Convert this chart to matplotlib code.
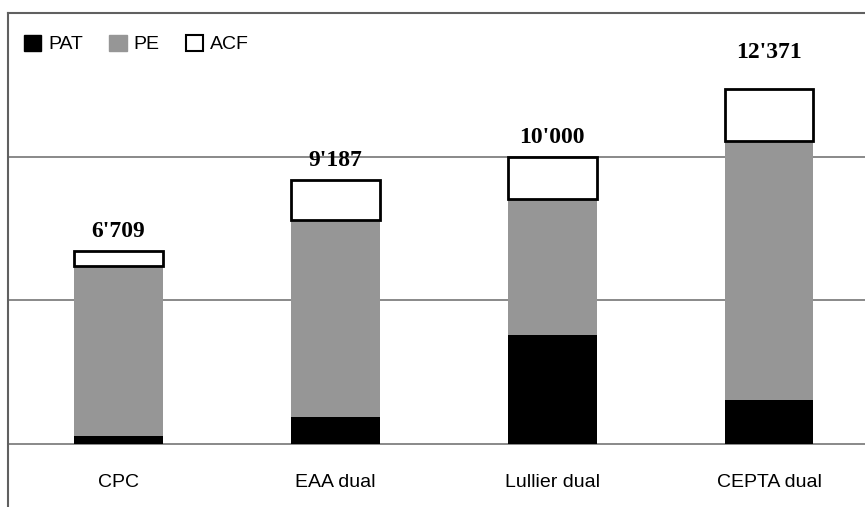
import matplotlib.pyplot as plt
from matplotlib.patches import Patch
from matplotlib.lines import Line2D

categories = ["CPC", "EAA dual", "Lullier dual", "CEPTA dual"]
pat = [280, 950, 3800, 1540]
pe = [5930, 6845, 4720, 9020]
acf = [499, 1392, 1480, 1811]
totals = ["6'709", "9'187", "10'000", "12'371"]

W, H = 865, 507
fig = plt.figure(figsize=(W / 100, H / 100), dpi=100)
fig.patch.set_facecolor("white")

# plot area in pixel coords: left 8, right 865, top 13, baseline 444
ax = fig.add_axes([8 / W, (H - 444) / H, (W - 8) / W, (444 - 13) / H])
x = list(range(len(categories)))
bw = 0.41

ax.bar(x, pat, bw, color="black", zorder=3)
bottom2 = pat
ax.bar(x, pe, bw, bottom=bottom2, color="#969696", zorder=3)
bottom3 = [a + b for a, b in zip(pat, pe)]
ax.bar(x, acf, bw, bottom=bottom3, color="white", edgecolor="black", linewidth=2, zorder=3)

# value labels above each stack (offsets in px)
offsets = [20, 20, 19, 36]
for i, lab in enumerate(totals):
    top = bottom3[i] + acf[i]
    ax.annotate(lab, (x[i], top), xytext=(0, offsets[i] * 0.72), textcoords="offset points",
                ha="center", va="center", fontsize=17, fontweight="bold",
                family="Liberation Serif")

ax.set_ylim(0, 15000)
ax.set_xlim(-0.51, 3.443)
for yv in [0, 5000, 10000]:
    ax.axhline(yv, color="#808080", linewidth=1.3, zorder=1, clip_on=False)
ax.tick_params(left=False, labelleft=False, bottom=False, labelbottom=False)
for s in ax.spines.values():
    s.set_visible(False)

for i, c in enumerate(categories):
    ax.text(x[i], -1350, c, ha="center", va="center", fontsize=14,
            family="Liberation Sans")

# outer chart border (top and left)
fig.add_artist(Line2D([8 / W, 8 / W], [0, (H - 13) / H], color="#606060", linewidth=1.5))
fig.add_artist(Line2D([8 / W, 1], [(H - 13) / H, (H - 13) / H], color="#606060", linewidth=1.5))

handles = [Patch(facecolor="black", edgecolor="black"),
           Patch(facecolor="#969696", edgecolor="#969696"),
           Patch(facecolor="white", edgecolor="black", linewidth=1.5)]
fig.legend(handles, ["PAT", "PE", "ACF"], loc="center left",
           bbox_to_anchor=(16 / W, (H - 44) / H), ncol=3, frameon=False,
           handlelength=0.9, handleheight=0.9,
           handletextpad=0.35, columnspacing=1.35, borderaxespad=0,
           prop={"family": "Liberation Sans", "size": 14})

fig.savefig("out.png", dpi=100)
